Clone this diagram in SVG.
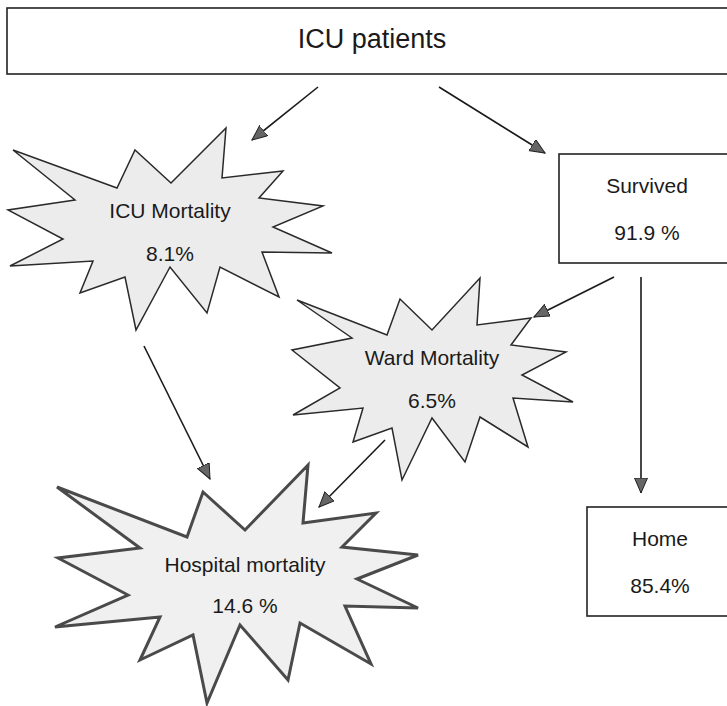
<svg xmlns="http://www.w3.org/2000/svg" width="727" height="706" viewBox="0 0 727 706">
<defs>
<style>
.box{fill:#ffffff;stroke:#222;stroke-width:1.6}
.star{fill:#ececec;stroke:#2a2a2a;stroke-width:1.5;stroke-linejoin:miter}
.star2{fill:#f0f0f0;stroke:#4a4a4a;stroke-width:3;stroke-linejoin:miter}
.t{font-family:"Liberation Sans",Arial,sans-serif;fill:#1a1a1a;text-anchor:middle}
.conn line{stroke:#1a1a1a;stroke-width:1.6;marker-end:url(#ah)}
</style>
<marker id="ah" markerUnits="userSpaceOnUse" markerWidth="16" markerHeight="14" refX="15" refY="6.5" orient="auto">
<path d="M0,0 L15,6.5 L0,13 Z" fill="#666" stroke="#222" stroke-width="1"/>
</marker>
</defs>
<rect width="727" height="706" fill="#ffffff"/>
<g id="icu-patients">
<rect class="box" x="7" y="8" width="740" height="66"/>
<text class="t" x="372" y="48" font-size="27">ICU patients</text>
</g>
<g id="survived">
<rect class="box" x="559" y="154" width="190" height="109"/>
<text class="t" x="647" y="193" font-size="21">Survived</text>
<text class="t" x="647" y="240" font-size="21">91.9 %</text>
</g>
<g id="home">
<rect class="box" x="587" y="507" width="160" height="109"/>
<text class="t" x="660" y="546" font-size="21">Home</text>
<text class="t" x="660" y="593" font-size="21">85.4%</text>
</g>
<g id="icu-mortality">
<polygon class="star" points="13,150 117,188 135,150 171,183 226,128 222,178 283,171 259,198 323,206 273,227 332,253 262,252 279,297 220,267 207,313 170,267 136,330 125,277 80,293 93,261 10,266 63,239 8,210 75,200"/>
<text class="t" x="170" y="218" font-size="21">ICU Mortality</text>
<text class="t" x="170" y="261" font-size="21">8.1%</text>
</g>
<g id="ward-mortality">
<polygon class="star" points="297,300 387,335 400,299 432,330 480,278 477,325 531,318 511,345 566,352 522,375 573,402 513,398 528,447 480,417 465,462 432,418 402,480 392,428 353,442 363,408 293,415 340,388 292,350 352,338"/>
<text class="t" x="432" y="365" font-size="21">Ward Mortality</text>
<text class="t" x="432" y="408" font-size="21">6.5%</text>
</g>
<g id="hospital-mortality">
<polygon class="star2" points="57,487 187,537 203,492 245,530 308,465 303,523 376,513 342,547 418,555 357,579 418,608 345,606 371,664 300,623 288,680 240,625 207,703 193,635 140,660 160,617 55,627 128,595 58,558 140,548"/>
<text class="t" x="245" y="572" font-size="21">Hospital mortality</text>
<text class="t" x="245" y="613" font-size="21">14.6 %</text>
</g>
<g id="connectors" class="conn">
<line x1="318" y1="87" x2="252" y2="140"/>
<line x1="439" y1="87" x2="545" y2="153"/>
<line x1="614" y1="277" x2="534" y2="317"/>
<line x1="641" y1="277" x2="641" y2="493"/>
<line x1="144" y1="346" x2="210" y2="479"/>
<line x1="385" y1="440" x2="319" y2="507"/>
</g>
</svg>
